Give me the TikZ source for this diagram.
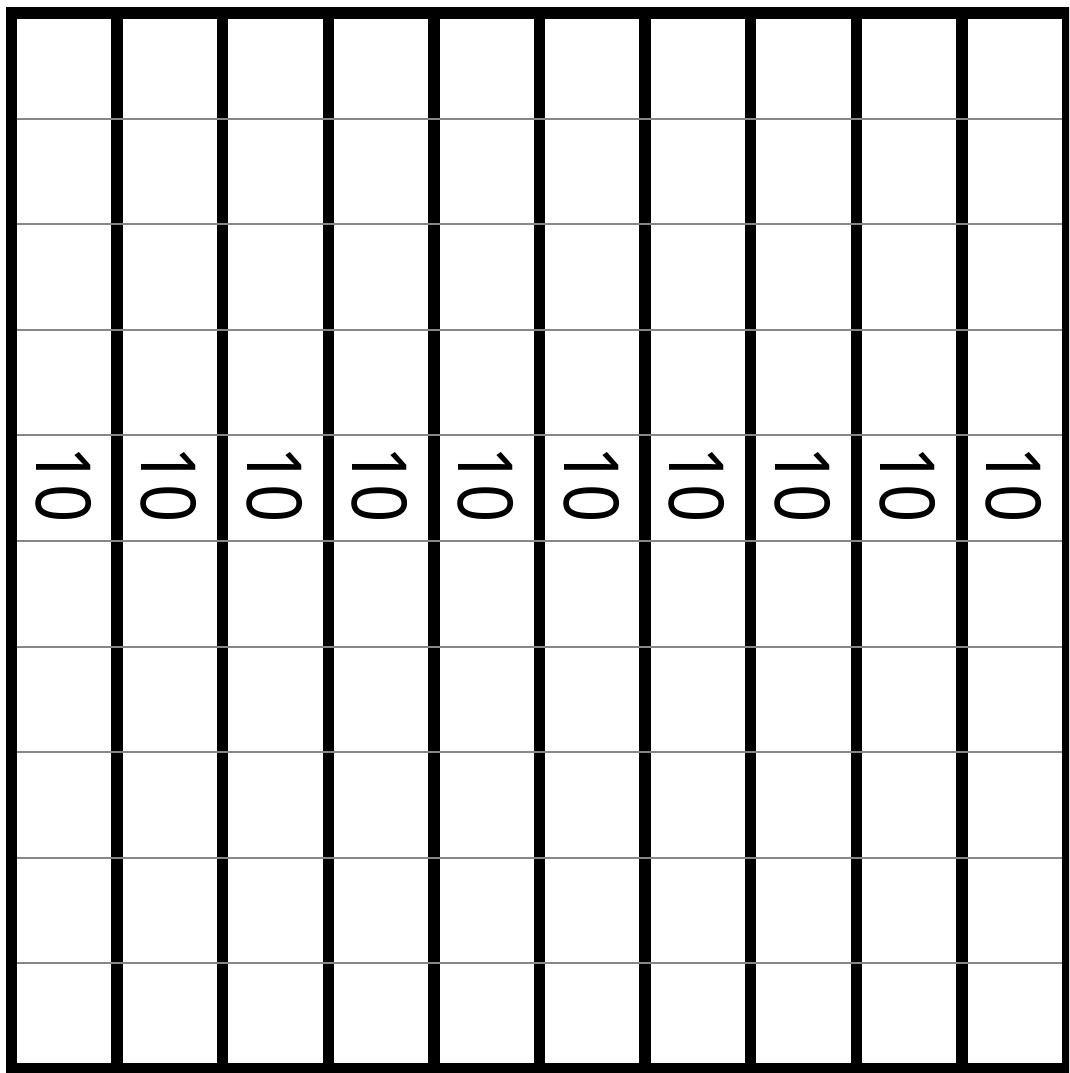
\documentclass[tikz,border=0pt]{standalone}
\usepackage{graphicx}
\usepackage{fontspec}
\setmainfont{Noto Sans}
\begin{document}
\begin{tikzpicture}[x=1pt,y=1pt,
  thinrule/.style={draw={rgb,255:red,135;green,135;blue,135},line width=2pt},
  thickrule/.style={draw=black,line width=11.5pt},
  border/.style={draw=black,line width=11.5pt,line join=miter},
  tenlabel/.style={font=\fontsize{76}{76}\selectfont,rotate=-90,inner sep=0pt}]
\clip (0,0) rectangle (1069,1073);
\fill[white] (0,0) rectangle (1069,1073);
\def\cs{105.6}
\def\xo{11.5}
\def\yt{1060}
% inner thick vertical lines
\foreach \i in {1,...,9}{
  \draw[thickrule] ({\xo+\i*\cs},\yt) -- ({\xo+\i*\cs},{\yt-10*\cs});
}
% thin horizontal lines
\foreach \j in {1,...,9}{
  \draw[thinrule] (\xo,{\yt-\j*\cs}) -- ({\xo+10*\cs},{\yt-\j*\cs});
}
% outer border
\draw[border] (\xo,\yt) rectangle ({\xo+10*\cs},{\yt-10*\cs});
% labels
\foreach \i in {0,...,9}{
  \node[tenlabel] (t\i) at ({\xo+(\i+0.5)*\cs-1},{\yt-4.5*\cs+3.2}) {\scalebox{0.88}[1]{10}};
}
\end{tikzpicture}
\end{document}
